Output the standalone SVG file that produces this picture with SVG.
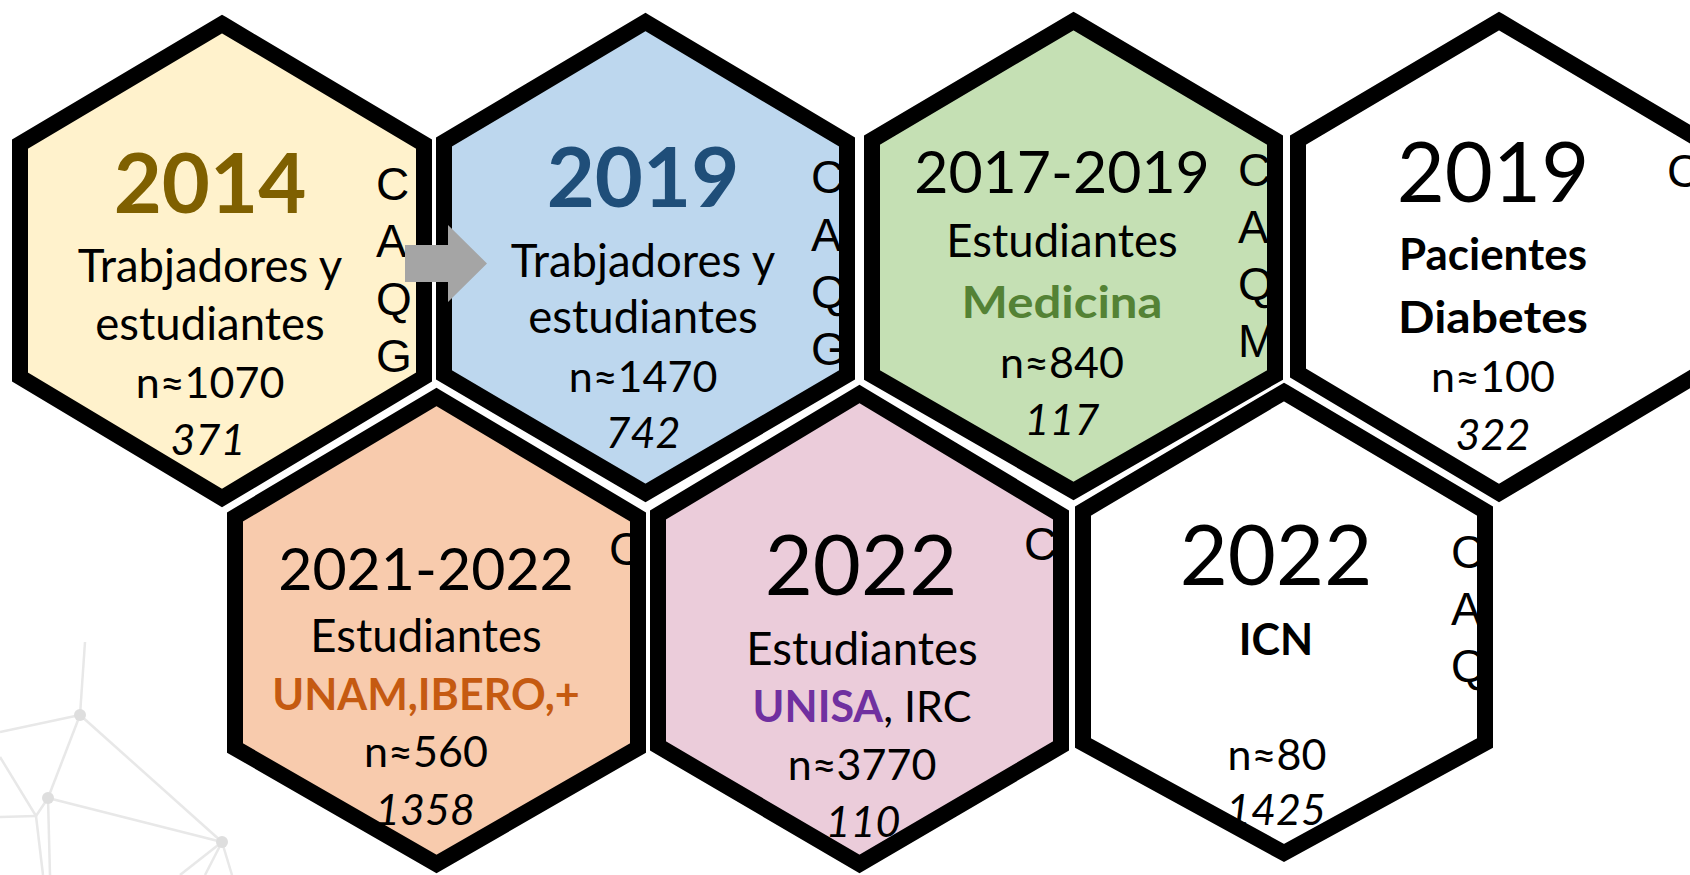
<svg xmlns="http://www.w3.org/2000/svg" xmlns:xlink="http://www.w3.org/1999/xlink" width="1690" height="875" viewBox="0 0 1690 875">
<style>
  .edge { fill: none; stroke: #000; stroke-width: 16; stroke-linejoin: miter; }
  .t { font-family: Lato, "Open Sans", sans-serif; font-size: 43px; fill: #000; text-anchor: middle; }
  .w { font-size: 45.5px; }
  .b { font-weight: bold; }
  .i { font-style: italic; }
  .yr { font-size: 83px; }
  .yr2 { font-size: 59px; }
  .side { font-family: "Liberation Sans", Arial, sans-serif; font-size: 46px; fill: #000; }
  .net line { stroke: #E8E8E8; stroke-width: 2.5; }
  .net circle { fill: #DEDEDE; }
</style>
<defs>
  <polygon id="h1" points="222,24 424,144 424,377 222,498 20,377 20,144"/>
  <polygon id="h2" points="645.5,22 847,142 847,375 645.5,493 444,375 444,142"/>
  <polygon id="h3" points="1073.5,21 1275,140 1275,375 1073.5,491 872,375 872,140"/>
  <polygon id="h4" points="1499,21 1700,140 1700,373 1499,493 1298,373 1298,140"/>
  <polygon id="h5" points="436.5,397 638,517 638,748 436.5,864 235,748 235,517"/>
  <polygon id="h6" points="859.5,394 1061,515 1061,746 859.5,864 658,746 658,515"/>
  <polygon id="h7" points="1284,392 1485,511 1485,743 1284,853 1083,743 1083,511"/>
</defs>

<g id="background-network" class="net">
  <line x1="80" y1="715" x2="85" y2="642"/>
  <line x1="80" y1="715" x2="0" y2="732"/>
  <line x1="80" y1="715" x2="48" y2="798"/>
  <line x1="80" y1="715" x2="222" y2="842"/>
  <line x1="48" y1="798" x2="222" y2="842"/>
  <line x1="48" y1="798" x2="50" y2="875"/>
  <line x1="0" y1="757" x2="36" y2="816"/>
  <line x1="48" y1="798" x2="36" y2="816"/>
  <line x1="0" y1="817" x2="36" y2="816"/>
  <line x1="36" y1="816" x2="43" y2="875"/>
  <line x1="222" y1="842" x2="180" y2="875"/>
  <line x1="222" y1="842" x2="205" y2="875"/>
  <line x1="222" y1="842" x2="232" y2="875"/>
  <circle cx="80" cy="715" r="6"/>
  <circle cx="48" cy="798" r="6"/>
  <circle cx="222" cy="842" r="6"/>
</g>

<g id="node-2014">
  <use xlink:href="#h1" fill="#FFF2CC"/>
  <text class="t b yr" x="210" y="213" style="fill:#7F6000">2014</text>
  <text class="t w" x="210" y="282">Trabjadores y</text>
  <text class="t w" x="210" y="340">estudiantes</text>
  <text class="t" x="210" y="398">n≈1070</text>
  <text class="t i" x="208" y="455">371</text>
  <text class="side" x="376" y="200">C</text>
  <text class="side" x="376" y="257">A</text>
  <text class="side" x="376" y="315">Q</text>
  <text class="side" x="376" y="372">G</text>
  <use xlink:href="#h1" class="edge"/>
</g>

<g id="node-2019-a">
  <use xlink:href="#h2" fill="#BDD7EE"/>
  <text class="t b yr" x="643" y="207" style="fill:#1F4E79">2019</text>
  <text class="t w" x="643" y="277">Trabjadores y</text>
  <text class="t w" x="643" y="333">estudiantes</text>
  <text class="t" x="643" y="392">n≈1470</text>
  <text class="t i" x="643" y="448">742</text>
  <text class="side" x="811" y="193">C</text>
  <text class="side" x="811" y="251">A</text>
  <text class="side" x="811" y="308">Q</text>
  <text class="side" x="811" y="365">G</text>
  <use xlink:href="#h2" class="edge"/>
</g>

<g id="node-2017-2019">
  <use xlink:href="#h3" fill="#C5E0B4"/>
  <text class="t yr2" x="1062" y="193">2017-2019</text>
  <text class="t w" x="1062" y="257">Estudiantes</text>
  <text class="t b" x="1062" y="318" style="fill:#548235" textLength="201" lengthAdjust="spacingAndGlyphs">Medicina</text>
  <text class="t" x="1062" y="378">n≈840</text>
  <text class="t i" x="1062" y="435">117</text>
  <text class="side" x="1238" y="186">C</text>
  <text class="side" x="1238" y="243">A</text>
  <text class="side" x="1238" y="300">Q</text>
  <text class="side" x="1238" y="357">M</text>
  <use xlink:href="#h3" class="edge"/>
</g>

<g id="node-2019-b">
  <use xlink:href="#h4" fill="#FFFFFF"/>
  <text class="t yr" x="1493" y="202">2019</text>
  <text class="t b" x="1493" y="270" textLength="188" lengthAdjust="spacingAndGlyphs">Pacientes</text>
  <text class="t b" x="1493" y="333" textLength="190" lengthAdjust="spacingAndGlyphs">Diabetes</text>
  <text class="t" x="1493" y="392">n≈100</text>
  <text class="t i" x="1493" y="450">322</text>
  <text class="side" x="1667" y="187">C</text>
  <use xlink:href="#h4" class="edge"/>
</g>

<g id="node-2021-2022">
  <use xlink:href="#h5" fill="#F8CBAD"/>
  <text class="t yr2" x="426" y="590">2021-2022</text>
  <text class="t w" x="426" y="652">Estudiantes</text>
  <text class="t b" x="426" y="710" style="fill:#C55A11">UNAM,IBERO,+</text>
  <text class="t" x="426" y="767">n≈560</text>
  <text class="t i" x="425" y="825">1358</text>
  <text class="side" x="609" y="565">C</text>
  <use xlink:href="#h5" class="edge"/>
</g>

<g id="node-2022-a">
  <use xlink:href="#h6" fill="#EBCCDA"/>
  <text class="t yr" x="861" y="595">2022</text>
  <text class="t w" x="862" y="665">Estudiantes</text>
  <text class="t" x="862" y="722"><tspan class="b" style="fill:#7030A0">UNISA</tspan>, IRC</text>
  <text class="t" x="862" y="780">n≈3770</text>
  <text class="t i" x="863" y="837">110</text>
  <text class="side" x="1024" y="560">C</text>
  <use xlink:href="#h6" class="edge"/>
</g>

<g id="node-2022-b">
  <use xlink:href="#h7" fill="#FFFFFF"/>
  <text class="t yr" x="1276" y="585">2022</text>
  <text class="t b" x="1276" y="655">ICN</text>
  <text class="t" x="1277" y="770">n≈80</text>
  <text class="t i" x="1276" y="825">1425</text>
  <text class="side" x="1451" y="568">C</text>
  <text class="side" x="1451" y="625">A</text>
  <text class="side" x="1451" y="682">Q</text>
  <use xlink:href="#h7" class="edge"/>
</g>

<g id="connectors">
  <polygon points="405,245 448,245 448,225 487,263.5 448,302 448,282 405,282" fill="#A5A5A5"/>
</g>
</svg>
